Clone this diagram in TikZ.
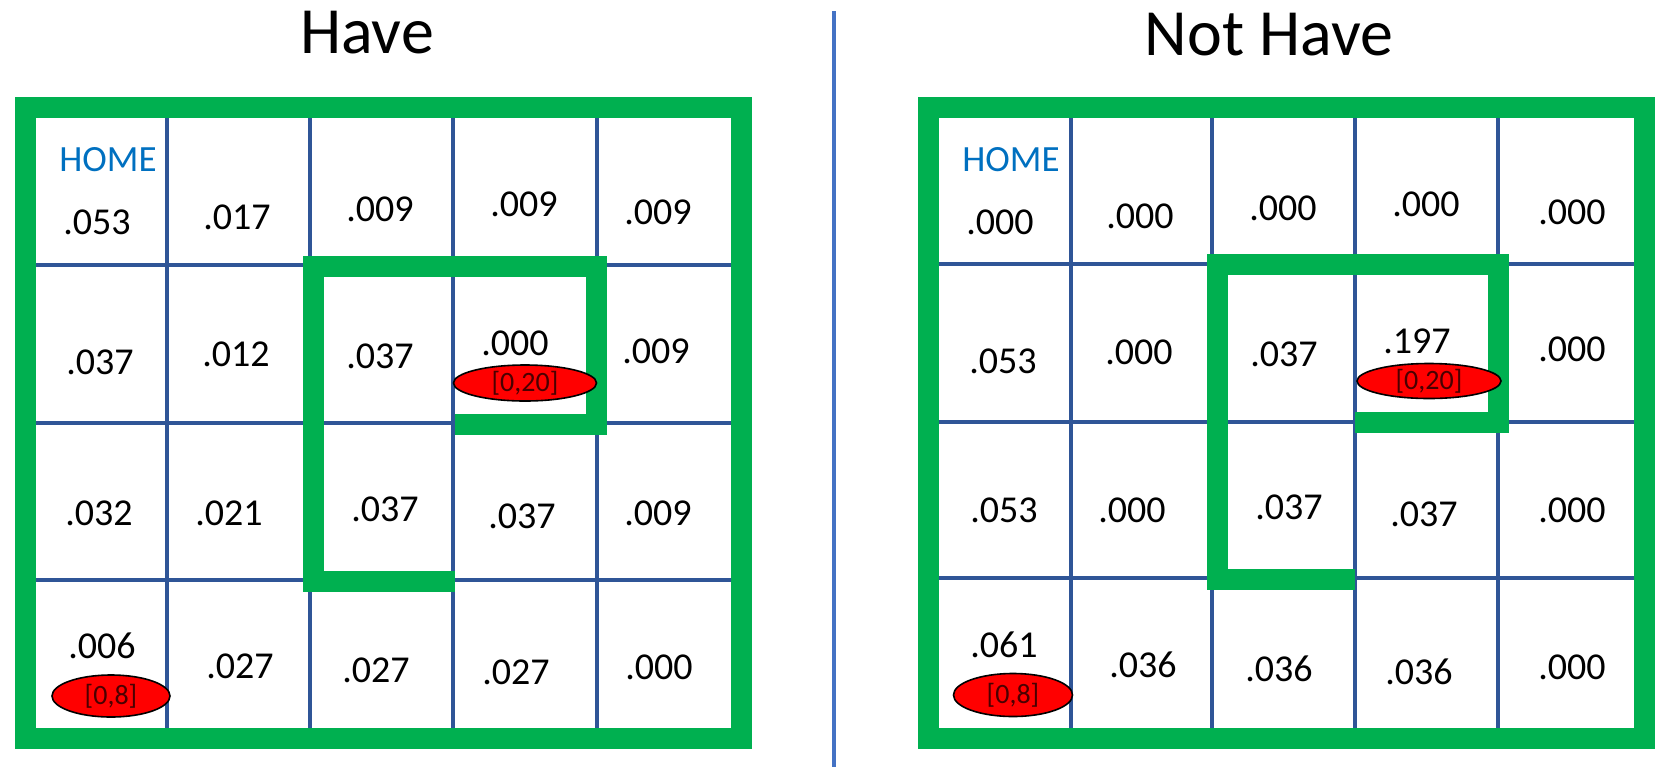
\documentclass[tikz,border=0pt]{standalone}
\usepackage{fontspec}
\setmainfont{Carlito}
\usetikzlibrary{shapes.geometric}
\definecolor{gridblue}{HTML}{2F5597}
\definecolor{bordergreen}{HTML}{00B050}
\definecolor{homeblue}{HTML}{0070C0}
\definecolor{divblue}{HTML}{4472C4}
\definecolor{tagred}{HTML}{FF0000}
\definecolor{tagtext}{HTML}{4A0000}
\newcommand\cellnum[4]{\node[num] (#1) at (#2,#3+12.5) {#4};}
\begin{document}
\begin{tikzpicture}[x=0.5pt,y=-0.5pt,
  num/.style={font=\fontsize{19}{19}\selectfont, anchor=base, inner sep=0pt},
  homelbl/.style={font=\fontsize{18.5}{18.5}\selectfont, text=homeblue, anchor=base, inner sep=0pt},
  titlelbl/.style={font=\fontsize{33}{33}\selectfont, anchor=base, inner sep=0pt},
  tag/.style={ellipse, draw=black, line width=0.8pt, fill=tagred, inner sep=0pt,
              font=\fontsize{14}{14}\selectfont, text=tagtext},
  gridline/.style={draw=gridblue, line width=2.3pt},
  greenline/.style={draw=bordergreen, line width=10.5pt, line join=miter},
  divider/.style={draw=divblue, line width=1.6pt}
]
\useasboundingbox (0,0) rectangle (1660,767);

% titles
\node[titlelbl] (t1) at (367,53) {Have};
\node[titlelbl] (t2) at (1269,55) {Not Have};

% divider
\coordinate (dtop) at (834,11);
\coordinate (dbot) at (834,767);
\draw[divider] (dtop) -- (dbot);

% ---------------- left grid ----------------
\foreach \x in {167,310,453,597} \draw[gridline] (\x,107) -- (\x,738);
\foreach \y in {265,423,580} \draw[gridline] (25,\y) -- (741,\y);
\draw[greenline] (25,107) rectangle (741,738);
\draw[greenline] (455,424) -- (596,424) -- (596,266) -- (313,266) -- (313,581) -- (455,581);

\node[homelbl] (Lhome) at (108,171) {HOME};
\cellnum{L11}{97}{222}{.053}
\cellnum{L12}{237}{217}{.017}
\cellnum{L13}{380}{209}{.009}
\cellnum{L14}{524}{204}{.009}
\cellnum{L15}{658}{212}{.009}
\cellnum{L21}{100}{362}{.037}
\cellnum{L22}{236}{354}{.012}
\cellnum{L23}{380}{356}{.037}
\cellnum{L24}{515}{343}{.000}
\cellnum{L25}{656}{351}{.009}
\cellnum{L31}{99}{513}{.032}
\cellnum{L32}{229}{513}{.021}
\cellnum{L33}{385}{509}{.037}
\cellnum{L34}{522}{516}{.037}
\cellnum{L35}{658}{513}{.009}
\cellnum{L41}{102}{646}{.006}
\cellnum{L42}{240}{666}{.027}
\cellnum{L43}{376}{670}{.027}
\cellnum{L44}{516}{672}{.027}
\cellnum{L45}{659}{667}{.000}
\node[tag, minimum width=59pt, minimum height=21pt] (Ltag1) at (111,696) {[0,8]};
\node[tag, minimum width=71.5pt, minimum height=18pt] (Ltag2) at (525,383) {[0,20]};

% ---------------- right grid ----------------
\foreach \x in {1071,1212,1355,1498} \draw[gridline] (\x,107) -- (\x,738);
\foreach \y in {264,422,578} \draw[gridline] (928,\y) -- (1644,\y);
\draw[greenline] (928,107) rectangle (1644,738);
\draw[greenline] (1355,422) -- (1498,422) -- (1498,264) -- (1217,264) -- (1217,579) -- (1355,579);

\node[homelbl] (Rhome) at (1011,171) {HOME};
\cellnum{R11}{1000}{222}{.000}
\cellnum{R12}{1140}{216}{.000}
\cellnum{R13}{1283}{208}{.000}
\cellnum{R14}{1426}{204}{.000}
\cellnum{R15}{1572}{212}{.000}
\cellnum{R21}{1003}{361}{.053}
\cellnum{R22}{1139}{352}{.000}
\cellnum{R23}{1284}{354}{.037}
\cellnum{R24}{1417}{341}{.197}
\cellnum{R25}{1572}{349}{.000}
\cellnum{R31}{1004}{510}{.053}
\cellnum{R32}{1132}{510}{.000}
\cellnum{R33}{1289}{507}{.037}
\cellnum{R34}{1424}{514}{.037}
\cellnum{R35}{1572}{510}{.000}
\cellnum{R41}{1004}{645}{.061}
\cellnum{R42}{1143}{665}{.036}
\cellnum{R43}{1279}{669}{.036}
\cellnum{R44}{1419}{672}{.036}
\cellnum{R45}{1572}{667}{.000}
\node[tag, minimum width=59.5pt, minimum height=21.5pt] (Rtag1) at (1013,695) {[0,8]};
\node[tag, minimum width=72pt, minimum height=17.5pt] (Rtag2) at (1429,381) {[0,20]};
\end{tikzpicture}
\end{document}
